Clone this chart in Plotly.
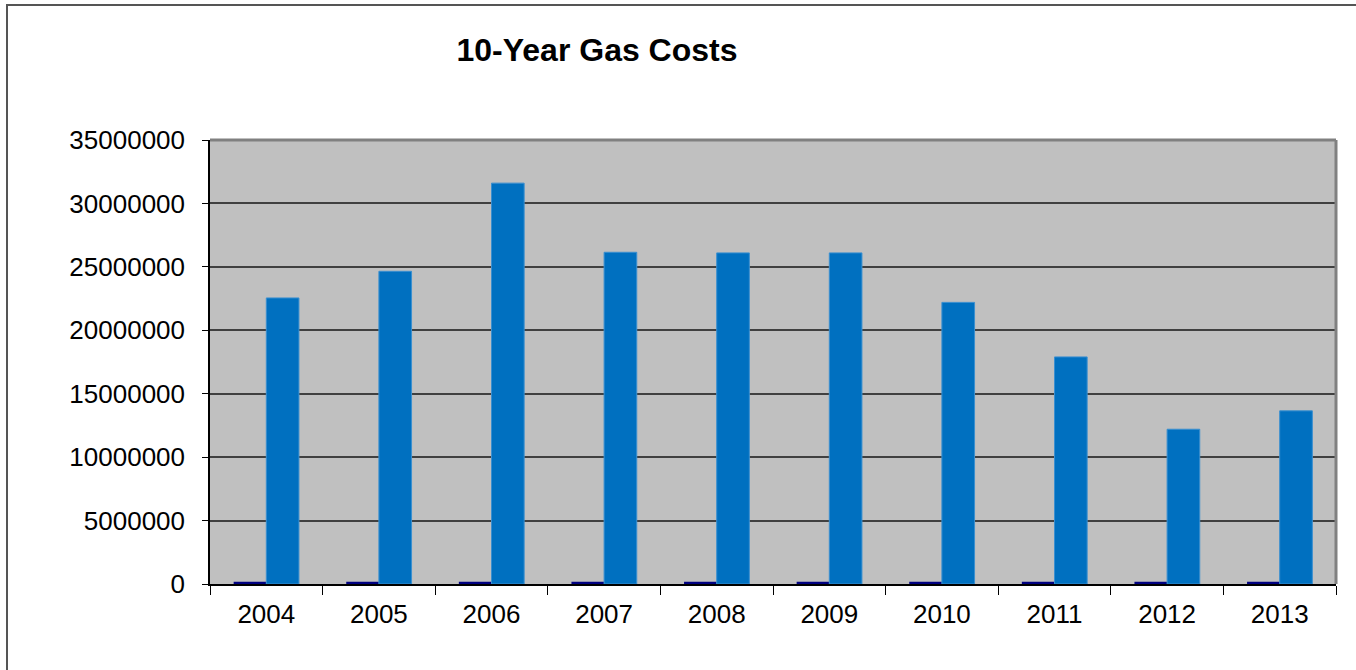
import plotly.graph_objects as go

years = ["2004", "2005", "2006", "2007", "2008", "2009", "2010", "2011", "2012", "2013"]
small_series = [180000] * 10
gas_costs = [22550000, 24650000, 31600000, 26150000, 26100000, 26100000, 22200000, 17900000, 12200000, 13650000]
y_ticks = [0, 5000000, 10000000, 15000000, 20000000, 25000000, 30000000, 35000000]

fig = go.Figure()
fig.add_trace(go.Bar(x=years, y=small_series, marker=dict(color="#000080", line=dict(width=0)), showlegend=False))
fig.add_trace(go.Bar(x=years, y=gas_costs, marker=dict(color="#0070C0", line=dict(color="#3A8FD0", width=1)), showlegend=False))

fig.update_layout(
    width=1356, height=670,
    margin=dict(l=210, r=20, t=140, b=86),
    paper_bgcolor="white", plot_bgcolor="#C0C0C0",
    barmode="group", bargap=0.42, bargroupgap=0,
    font=dict(family="Liberation Sans, Arial", size=26, color="black"),
    title=dict(text="<b>10-Year Gas Costs</b>", x=597/1356, xanchor="center", y=1-50/670, yanchor="middle",
               font=dict(size=32, family="Liberation Sans, Arial", color="black")),
)
fig.update_yaxes(range=[0, 35000000], tickvals=y_ticks, tickformat="d", showgrid=True, gridcolor="#404040", gridwidth=1.5,
                 showline=True, linecolor="black", linewidth=1.5, ticks="outside", ticklen=6, tickcolor="black",
                 ticklabelstandoff=12, zeroline=False, mirror=False)
fig.update_xaxes(showline=True, linecolor="black", linewidth=1.5, ticks="outside", ticklen=9, tickcolor="black",
                 tickson="boundaries", showgrid=False, ticklabelstandoff=6)
# plot-area right/top border
fig.add_shape(type="line", xref="paper", yref="paper", x0=1, x1=1, y0=0, y1=1, line=dict(color="#808080", width=3))
fig.add_shape(type="line", xref="paper", yref="paper", x0=0, x1=1, y0=1, y1=1, line=dict(color="#808080", width=3))
# outer chart border
fig.add_shape(type="rect", xref="paper", yref="paper", x0=(7-210)/1126, x1=1.3, y0=-0.5, y1=(584-5)/444,
              line=dict(color="#555555", width=2), layer="below")

fig.write_html("out.html", config={"displayModeBar": False},
               post_script="document.body.style.margin='0';document.body.style.overflow='hidden';")
